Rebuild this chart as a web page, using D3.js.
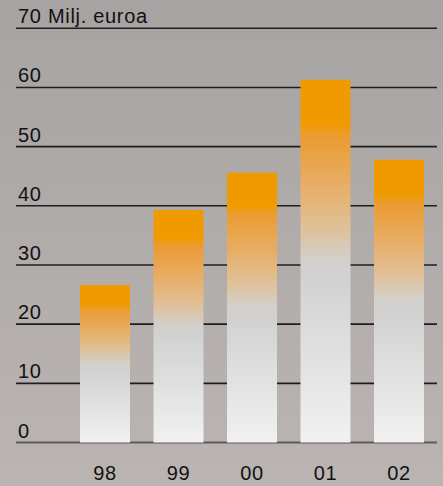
<!DOCTYPE html>
<html><head><meta charset="utf-8">
<script src="https://cdn.jsdelivr.net/npm/d3@7"></script>
<style>html,body{margin:0;padding:0;background:#aeaaa8}svg{display:block}</style>
</head><body>
<script>
const categories = ["98","99","00","01","02"];
const values = [26.6, 39.3, 45.6, 61.3, 47.8];
const yTicks = [0,10,20,30,40,50,60,70];
const unitLabel = "Milj. euroa";

const W = 443, H = 486;
const svg = d3.select("body").append("svg").attr("width", W).attr("height", H);
const defs = svg.append("defs");

const bg = defs.append("linearGradient").attr("id","bg").attr("x1",0).attr("y1",0).attr("x2",0).attr("y2",1);
bg.append("stop").attr("offset","0").attr("stop-color","#a7a3a2");
bg.append("stop").attr("offset","1").attr("stop-color","#bab5b2");
svg.append("rect").attr("width",W).attr("height",H).attr("fill","url(#bg)");

const barG = defs.append("linearGradient").attr("id","bar").attr("x1",0).attr("y1",0).attr("x2",0).attr("y2",1);
[["0","#f09a00"],["0.12","#f09a00"],["0.16","#eb9c34"],["0.28","#e8ac62"],["0.40","#e0bf94"],["0.50","#d2d0cd"],["0.55","#d2d2d2"],["1","#f1f1f1"]]
  .forEach(([o,c]) => barG.append("stop").attr("offset",o).attr("stop-color",c));

const y = d3.scaleLinear().domain([0,70]).range([442.5, 28.3]);
const x = d3.scaleBand().domain(categories).range([68.25, 435.75]).paddingInner(0.32).paddingOuter(0.16);

const font = "'Liberation Sans', Arial, Helvetica, sans-serif";

// gridlines
svg.append("g").selectAll("line").data(yTicks).join("line")
  .attr("x1",16).attr("x2",437)
  .attr("y1",d=>y(d)).attr("y2",d=>y(d))
  .attr("stroke",d=> d===0 ? "#5e5b5a" : "#1e1e1e")
  .attr("stroke-width",d=> d===0 ? 2 : 1.6);

// y labels
svg.append("g").selectAll("text").data(yTicks).join("text")
  .attr("x",18).attr("y",d=>y(d)-5)
  .attr("font-family",font).attr("font-size",20).attr("letter-spacing","0.7px").attr("fill","#111")
  .text(d => d===70 ? d + " " + unitLabel : d);

// bars
svg.append("g").selectAll("rect").data(values).join("rect")
  .attr("x",(d,i)=>x(categories[i]))
  .attr("width",x.bandwidth())
  .attr("y",d=>y(d))
  .attr("height",d=>y(0)-y(d))
  .attr("fill","url(#bar)");

// x labels
svg.append("g").selectAll("text").data(categories).join("text")
  .attr("x",d=>x(d)+x.bandwidth()/2).attr("y",480)
  .attr("text-anchor","middle")
  .attr("font-family",font).attr("font-size",20).attr("letter-spacing","0.7px").attr("fill","#111")
  .text(d=>d);
</script>
</body></html>
